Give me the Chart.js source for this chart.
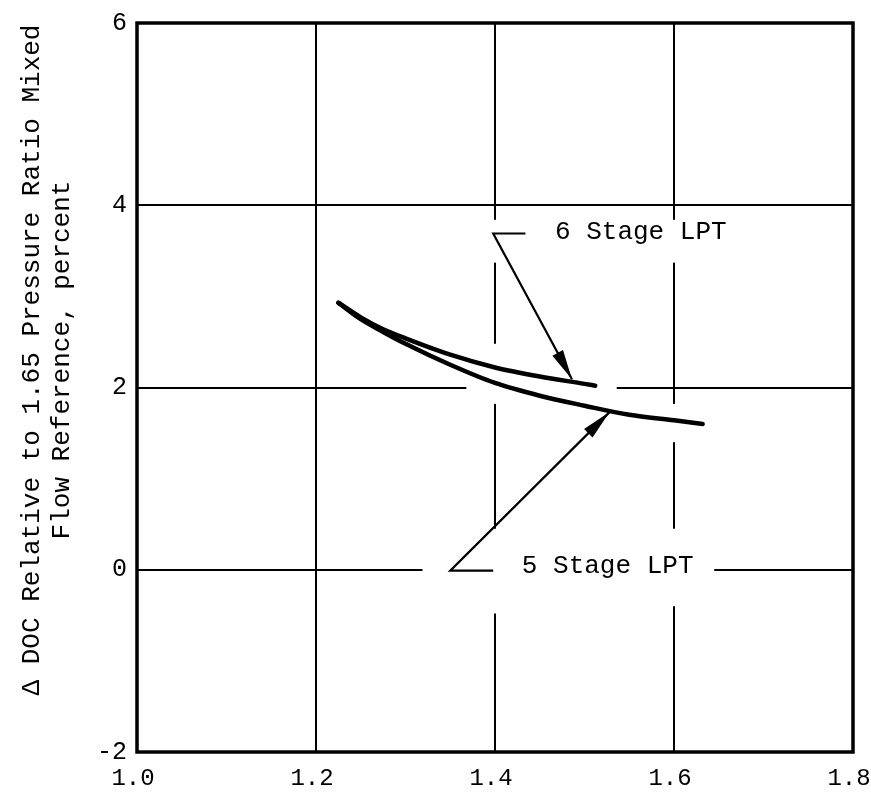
<!DOCTYPE html>
<html lang="en">
<head>
    <meta charset="utf-8" />
    <title>DOC vs pressure ratio</title>
    <script src="https://cdn.jsdelivr.net/npm/chart.js"></script>
    <style>
        html, body { margin: 0; padding: 0; background: #fff; }
        #wrap { width: 871px; height: 793px; }
    </style>
</head>
<body>
    <div id="wrap"><canvas id="chart"></canvas></div>

    <script>
        // Curve data
        const stage6X = [1.225, 1.25, 1.275, 1.30, 1.35, 1.40, 1.45, 1.50, 1.512];
        const stage6Y = [2.93, 2.77, 2.64, 2.54, 2.36, 2.22, 2.12, 2.04, 2.02];
        const stage5X = [1.225, 1.25, 1.275, 1.30, 1.35, 1.40, 1.45, 1.50, 1.55, 1.60, 1.632];
        const stage5Y = [2.93, 2.75, 2.61, 2.48, 2.25, 2.05, 1.91, 1.80, 1.70, 1.64, 1.60];

        const xTicks = [1.0, 1.2, 1.4, 1.6, 1.8];
        const yTicks = [-2, 0, 2, 4, 6];

        const yTitle = ['\u0394 DOC Relative to 1.65 Pressure Ratio Mixed', 'Flow Reference, percent'];

        // Callout labels: text, left edge x, centre y, arrow path (tail -> corner -> tip)
        const callouts = [
            { text: '6 Stage LPT', x: 1.467, y: 3.70, path: [[1.434, 3.69], [1.398, 3.69], [1.486, 2.09]] },
            { text: '5 Stage LPT', x: 1.430, y: 0.04, path: [[1.398, -0.01], [1.350, -0.01], [1.528, 1.73]] }
        ];

        // Places where the drafted grid is broken (axis of the line, its value, span)
        const gridBreaks = [
            { dir: 'v', at: 1.4, from: 3.37, to: 3.84 },
            { dir: 'v', at: 1.6, from: 3.37, to: 3.84 },
            { dir: 'v', at: 1.4, from: 1.82, to: 2.48 },
            { dir: 'v', at: 1.6, from: 1.40, to: 1.82 },
            { dir: 'h', at: 2, from: 1.368, to: 1.536 },
            { dir: 'h', at: 0, from: 1.319, to: 1.645 },
            { dir: 'v', at: 1.4, from: -0.48, to: 0.45 },
            { dir: 'v', at: 1.6, from: -0.40, to: 0.45 }
        ];

        const FONT = '"Liberation Mono", "DejaVu Sans Mono", monospace';

        const toPoints = (xs, ys) => xs.map((x, i) => ({ x: x, y: ys[i] }));

        // white out the breaks in the grid before the curves go on
        const breaksPlugin = {
            id: 'breaks',
            beforeDatasetsDraw(chart) {
                const { ctx, scales: { x, y } } = chart;
                ctx.save();
                ctx.fillStyle = '#fff';
                gridBreaks.forEach(b => {
                    if (b.dir === 'v') {
                        const px = x.getPixelForValue(b.at);
                        const y1 = y.getPixelForValue(b.to), y2 = y.getPixelForValue(b.from);
                        ctx.fillRect(px - 4, y1, 8, y2 - y1);
                    } else {
                        const py = y.getPixelForValue(b.at);
                        const x1 = x.getPixelForValue(b.from), x2 = x.getPixelForValue(b.to);
                        ctx.fillRect(x1, py - 4, x2 - x1, 8);
                    }
                });
                ctx.restore();
            }
        };

        // frame, arrows, callout text and the rotated y title
        const decorPlugin = {
            id: 'decor',
            afterDatasetsDraw(chart) {
                const { ctx, chartArea: a, scales: { x, y } } = chart;
                ctx.save();

                ctx.strokeStyle = '#000';
                ctx.lineWidth = 3.5;
                ctx.strokeRect(a.left, a.top, a.right - a.left, a.bottom - a.top);

                callouts.forEach(c => {
                    const pts = c.path.map(p => [x.getPixelForValue(p[0]), y.getPixelForValue(p[1])]);
                    ctx.lineWidth = 2.2;
                    ctx.beginPath();
                    ctx.moveTo(pts[0][0], pts[0][1]);
                    pts.slice(1).forEach(p => ctx.lineTo(p[0], p[1]));
                    ctx.stroke();

                    // arrow head
                    const [tx, ty] = pts[pts.length - 1];
                    const [sx, sy] = pts[pts.length - 2];
                    const ang = Math.atan2(ty - sy, tx - sx);
                    const len = 30, half = 6;
                    ctx.fillStyle = '#000';
                    ctx.beginPath();
                    ctx.moveTo(tx, ty);
                    ctx.lineTo(tx - len * Math.cos(ang) + half * Math.sin(ang), ty - len * Math.sin(ang) - half * Math.cos(ang));
                    ctx.lineTo(tx - len * Math.cos(ang) - half * Math.sin(ang), ty - len * Math.sin(ang) + half * Math.cos(ang));
                    ctx.closePath();
                    ctx.fill();

                    ctx.font = '26px ' + FONT;
                    ctx.textAlign = 'left';
                    ctx.textBaseline = 'middle';
                    ctx.fillText(c.text, x.getPixelForValue(c.x), y.getPixelForValue(c.y));
                });

                // y axis title, two rotated lines
                ctx.fillStyle = '#000';
                ctx.font = '26px ' + FONT;
                ctx.textAlign = 'center';
                ctx.textBaseline = 'middle';
                ctx.translate(0, 360);
                ctx.rotate(-Math.PI / 2);
                ctx.fillText(yTitle[0], 0, 32);
                ctx.fillText(yTitle[1], 0, 62);

                ctx.restore();
            }
        };

        new Chart(document.getElementById('chart'), {
            type: 'line',
            data: {
                datasets: [
                    { label: '6 Stage LPT', data: toPoints(stage6X, stage6Y) },
                    { label: '5 Stage LPT', data: toPoints(stage5X, stage5Y) }
                ]
            },
            options: {
                responsive: true,
                maintainAspectRatio: false,
                animation: false,
                layout: { padding: { top: 23, right: 18, left: 0, bottom: 0 } },
                elements: {
                    line: { borderColor: '#000', borderWidth: 4.5, borderCapStyle: 'round', cubicInterpolationMode: 'monotone' },
                    point: { radius: 0 }
                },
                plugins: { legend: { display: false }, tooltip: { enabled: false } },
                scales: {
                    x: {
                        type: 'linear',
                        min: 1.0, max: 1.8,
                        afterBuildTicks: s => { s.ticks = xTicks.map(v => ({ value: v })); },
                        afterFit: s => { s.height = 41; s.paddingLeft = 0; s.paddingRight = 0; },
                        ticks: {
                            color: '#000',
                            padding: 12,
                            maxRotation: 0,
                            labelOffset: -4,
                            font: { family: FONT, size: 24 },
                            callback: v => v.toFixed(1)
                        },
                        grid: { color: '#000', lineWidth: 2, drawTicks: false },
                        border: { display: false }
                    },
                    y: {
                        type: 'linear',
                        min: -2, max: 6,
                        afterBuildTicks: s => { s.ticks = yTicks.map(v => ({ value: v })); },
                        afterFit: s => { s.width = 137; s.paddingTop = 0; s.paddingBottom = 0; },
                        ticks: {
                            color: '#000',
                            padding: 10,
                            font: { family: FONT, size: 25 }
                        },
                        grid: { color: '#000', lineWidth: 2, drawTicks: false },
                        border: { display: false }
                    }
                }
            },
            plugins: [breaksPlugin, decorPlugin]
        });
    </script>
</body>
</html>
